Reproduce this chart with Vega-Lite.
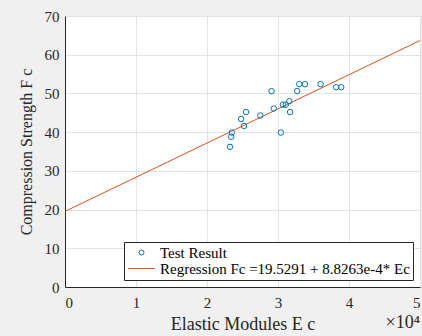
{
  "$schema": "https://vega.github.io/schema/vega-lite/v6.json",
  "width": 355,
  "height": 271,
  "autosize": {"type": "none"},
  "padding": {"left": 65, "top": 16, "right": 2, "bottom": 49},
  "background": "#f0f0f0",
  "config": {
    "view": {"fill": "white", "stroke": null},
    "font": "Liberation Serif",
    "axis": {
      "labelFont": "Liberation Serif",
      "titleFont": "Liberation Serif",
      "labelFontSize": 15,
      "titleFontSize": 16,
      "titleFontWeight": "normal",
      "labelColor": "#262626",
      "titleColor": "#262626",
      "domainColor": "#262626",
      "gridColor": "#e3e3e3",
      "labelOverlap": false,
      "ticks": false
    }
  },
  "datasets": {
    "points": [
      {"E": 23240, "F": 36.2, "series": "Test Result"},
      {"E": 23400, "F": 38.8, "series": "Test Result"},
      {"E": 23500, "F": 39.9, "series": "Test Result"},
      {"E": 25200, "F": 41.6, "series": "Test Result"},
      {"E": 24800, "F": 43.4, "series": "Test Result"},
      {"E": 25500, "F": 45.2, "series": "Test Result"},
      {"E": 27500, "F": 44.3, "series": "Test Result"},
      {"E": 29100, "F": 50.6, "series": "Test Result"},
      {"E": 29400, "F": 46.1, "series": "Test Result"},
      {"E": 30400, "F": 39.9, "series": "Test Result"},
      {"E": 30700, "F": 47.1, "series": "Test Result"},
      {"E": 31100, "F": 47.1, "series": "Test Result"},
      {"E": 31600, "F": 48.0, "series": "Test Result"},
      {"E": 31700, "F": 45.2, "series": "Test Result"},
      {"E": 32700, "F": 50.6, "series": "Test Result"},
      {"E": 33000, "F": 52.4, "series": "Test Result"},
      {"E": 33800, "F": 52.4, "series": "Test Result"},
      {"E": 36000, "F": 52.4, "series": "Test Result"},
      {"E": 38200, "F": 51.6, "series": "Test Result"},
      {"E": 38900, "F": 51.6, "series": "Test Result"}
    ],
    "line": [
      {"E": 0, "F": 19.5291, "series": "Regression Fc =19.5291 + 8.8263e-4* Ec"},
      {"E": 50000, "F": 63.6606, "series": "Regression Fc =19.5291 + 8.8263e-4* Ec"}
    ],
    "note": [{"E": 50000, "F": 0, "label": "×10⁴"}]
  },
  "encoding": {
    "x": {"field": "E", "type": "quantitative", "scale": {"domain": [0, 50000], "nice": false},
          "axis": {"title": "Elastic Modules E c", "titleFontSize": 18, "labelFont": "Liberation Serif", "labelFontSize": 15, "labelOverlap": false, "values": [0, 10000, 20000, 30000, 40000, 50000], "labelExpr": "datum.value / 10000", "titlePadding": 5, "labelPadding": 8}},
    "y": {"field": "F", "type": "quantitative", "scale": {"domain": [0, 70], "nice": false},
          "axis": {"title": "Compression Strength F c", "labelFont": "Liberation Serif", "labelFontSize": 15, "labelOverlap": false, "values": [0, 10, 20, 30, 40, 50, 60, 70], "tickCount": 8, "titlePadding": 10, "labelPadding": 6}}
  },
  "layer": [
    {
      "data": {"name": "line"},
      "mark": {"type": "line", "strokeWidth": 1, "clip": true},
      "encoding": {
        "color": {
          "field": "series", "type": "nominal",
          "scale": {"domain": ["Test Result", "Regression Fc =19.5291 + 8.8263e-4* Ec"], "range": ["#0072bd", "#d95319"]},
          "legend": {
            "title": null,
            "orient": "bottom-right",
            "offset": 7,
            "fillColor": "white",
            "strokeColor": "#262626",
            "padding": 3,
            "labelFont": "Liberation Serif",
            "labelFontSize": 15,
            "labelColor": "#000000",
            "rowPadding": 0,
            "symbolSize": 180,
            "symbolOffset": 7,
            "labelOffset": 11,
            "labelLimit": 400,
            "encode": {
              "symbols": {
                "update": {
                  "shape": {"signal": "datum.value === 'Test Result' ? 'circle' : 'M-2,0L2,0'"},
                  "size": {"signal": "datum.value === 'Test Result' ? 25 : 180"},
                  "fill": {"value": "transparent"},
                  "strokeWidth": {"value": 1}
                }
              }
            }
          }
        }
      }
    },
    {
      "data": {"name": "points"},
      "mark": {"type": "point", "shape": "circle", "filled": false, "size": 30, "strokeWidth": 1, "opacity": 1},
      "encoding": {
        "color": {"field": "series", "type": "nominal"}
      }
    },
    {
      "data": {"name": "note"},
      "mark": {"type": "text", "align": "right", "baseline": "alphabetic", "dy": 41, "dx": 0, "fontSize": 18, "font": "Liberation Serif", "color": "#262626"},
      "encoding": {
        "text": {"field": "label"}
      }
    }
  ]
}
